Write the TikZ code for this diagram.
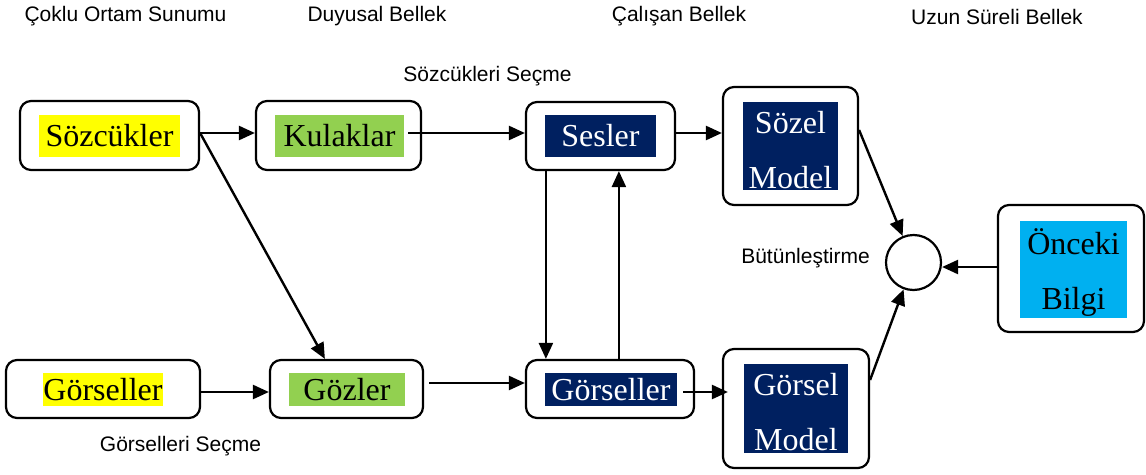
\documentclass[tikz,border=0pt]{standalone}
\usepackage{fontspec}
\setmainfont{Liberation Serif}
\newfontfamily\labfont{Liberation Sans}
\usetikzlibrary{arrows.meta}
\definecolor{navy}{HTML}{002060}
\definecolor{lgreen}{HTML}{92D050}
\definecolor{cyanb}{HTML}{00B0F0}
\definecolor{yel}{HTML}{FFFF00}
\begin{document}
\begin{tikzpicture}[x=1pt,y=-1pt,
  outer/.style={draw=black,line width=2.2pt,rounded corners=11pt,fill=white,inner sep=0pt},
  hl/.style={inner sep=0pt,font=\fontsize{32}{55}\selectfont,align=center},
  wt/.style={hl,fill=navy,text=white},
  txt/.style={inner sep=0pt,font=\fontsize{32}{55}\selectfont,align=center},
  lab/.style={font=\labfont\fontsize{21}{24}\selectfont,inner sep=0pt},
  arr/.style={line width=2.4pt,-{Triangle[length=16pt,width=14pt]}}]
\useasboundingbox (0,0) rectangle (1146,474);
% outer boxes
\node[outer,minimum width=179pt,minimum height=69pt] (soz) at (109.5,135.5) {};
\node[outer,minimum width=165pt,minimum height=69pt] (kul) at (338.5,135.5) {};
\node[outer,minimum width=149pt,minimum height=68pt] (ses) at (600.5,136) {};
\node[outer,minimum width=135pt,minimum height=118pt] (sozel) at (790.5,146) {};
\node[outer,minimum width=194pt,minimum height=58pt] (gor1) at (103,389) {};
\node[outer,minimum width=153pt,minimum height=58pt] (goz) at (346.5,389) {};
\node[outer,minimum width=168pt,minimum height=58pt] (gor2) at (610,389) {};
\node[outer,minimum width=146pt,minimum height=119pt] (gmod) at (796,408.5) {};
\node[outer,minimum width=146pt,minimum height=127pt] (once) at (1071,268.5) {};
\node[draw=black,line width=2.2pt,circle,minimum size=55pt,inner sep=0pt] (circ) at (913.5,262.5) {};
% highlights
\node[hl,fill=yel,minimum width=141pt,minimum height=42pt] (sozh) at (109.5,136) {Sözcükler};
\node[hl,fill=lgreen,minimum width=129pt,minimum height=42pt] (kulh) at (339.5,136) {Kulaklar};
\node[wt,minimum width=111pt,minimum height=42pt] (sesh) at (600.5,136) {Sesler};
\node[wt,minimum width=95pt,minimum height=88pt] (sozelh) at (790.5,146) {};
\node[txt,text=white] (sozelt) at (790.5,150) {Sözel\\Model};
\node[hl,fill=yel,minimum width=120pt,minimum height=33pt] (gor1h) at (103,389.5) {Görseller};
\node[hl,fill=lgreen,minimum width=116pt,minimum height=33pt] (gozh) at (347,389.5) {Gözler};
\node[wt,minimum width=132pt,minimum height=33pt] (gor2h) at (611,389.5) {Görseller};
\node[wt,minimum width=104pt,minimum height=89pt] (gmodh) at (796,408.5) {};
\node[txt,text=white] (gmodt) at (796,412.5) {Görsel\\Model};
\node[hl,fill=cyanb,minimum width=107pt,minimum height=97pt] (onceh) at (1073.5,269.5) {};
\node[txt] (oncet) at (1073.5,272) {Önceki\\Bilgi};
% labels
\node[lab] (l1) at (125.5,16.5) {Çoklu Ortam Sunumu};
\node[lab] (l2) at (377,16.5) {Duyusal Bellek};
\node[lab] (l3) at (679,16.5) {Çalışan Bellek};
\node[lab] (l4) at (997,16.5) {Uzun Süreli Bellek};
\node[lab] (l5) at (487.5,76) {Sözcükleri Seçme};
\node[lab] (l6) at (180.5,446) {Görselleri Seçme};
\node[lab] (l7) at (805.5,258) {Bütünleştirme};
% arrows
\draw[arr] ([yshift=2.5pt]soz.east) -- ([yshift=2.5pt]kul.west);
\draw[arr] ([xshift=4pt,yshift=3pt]kulh.east) -- ([yshift=3pt]ses.west);
\draw[arr] ([yshift=3pt]ses.east) -- ([yshift=3pt]ses.east -| sozel.west);
\draw[arr] ([yshift=2.5pt]soz.east) -- ([xshift=56pt]goz.north west);
\draw[arr] ([yshift=-3pt]gor1.east) -- ([yshift=-3pt]goz.west);
\draw[arr] ([xshift=5pt,yshift=6pt]goz.east) -- ([yshift=6pt]gor2.west);
\draw[arr] ([xshift=6pt,yshift=-2.5pt]gor2h.east) -- ([xshift=6pt,yshift=-2.5pt]gor2h.east -| gmod.west);
\draw[arr] ([xshift=21pt]ses.south west) -- ([xshift=21pt]gor2.north west);
\draw[arr] ([xshift=94pt]gor2.north west) -- ([xshift=94pt]ses.south west);
\draw[arr] ([yshift=16pt]sozel.east) -- (circ);
\draw[arr] ([yshift=28.5pt]gmod.east) -- (circ);
\draw[arr] ([yshift=1.5pt]once.west) -- ([yshift=1.5pt]once.west -| circ.east);
\end{tikzpicture}
\end{document}
